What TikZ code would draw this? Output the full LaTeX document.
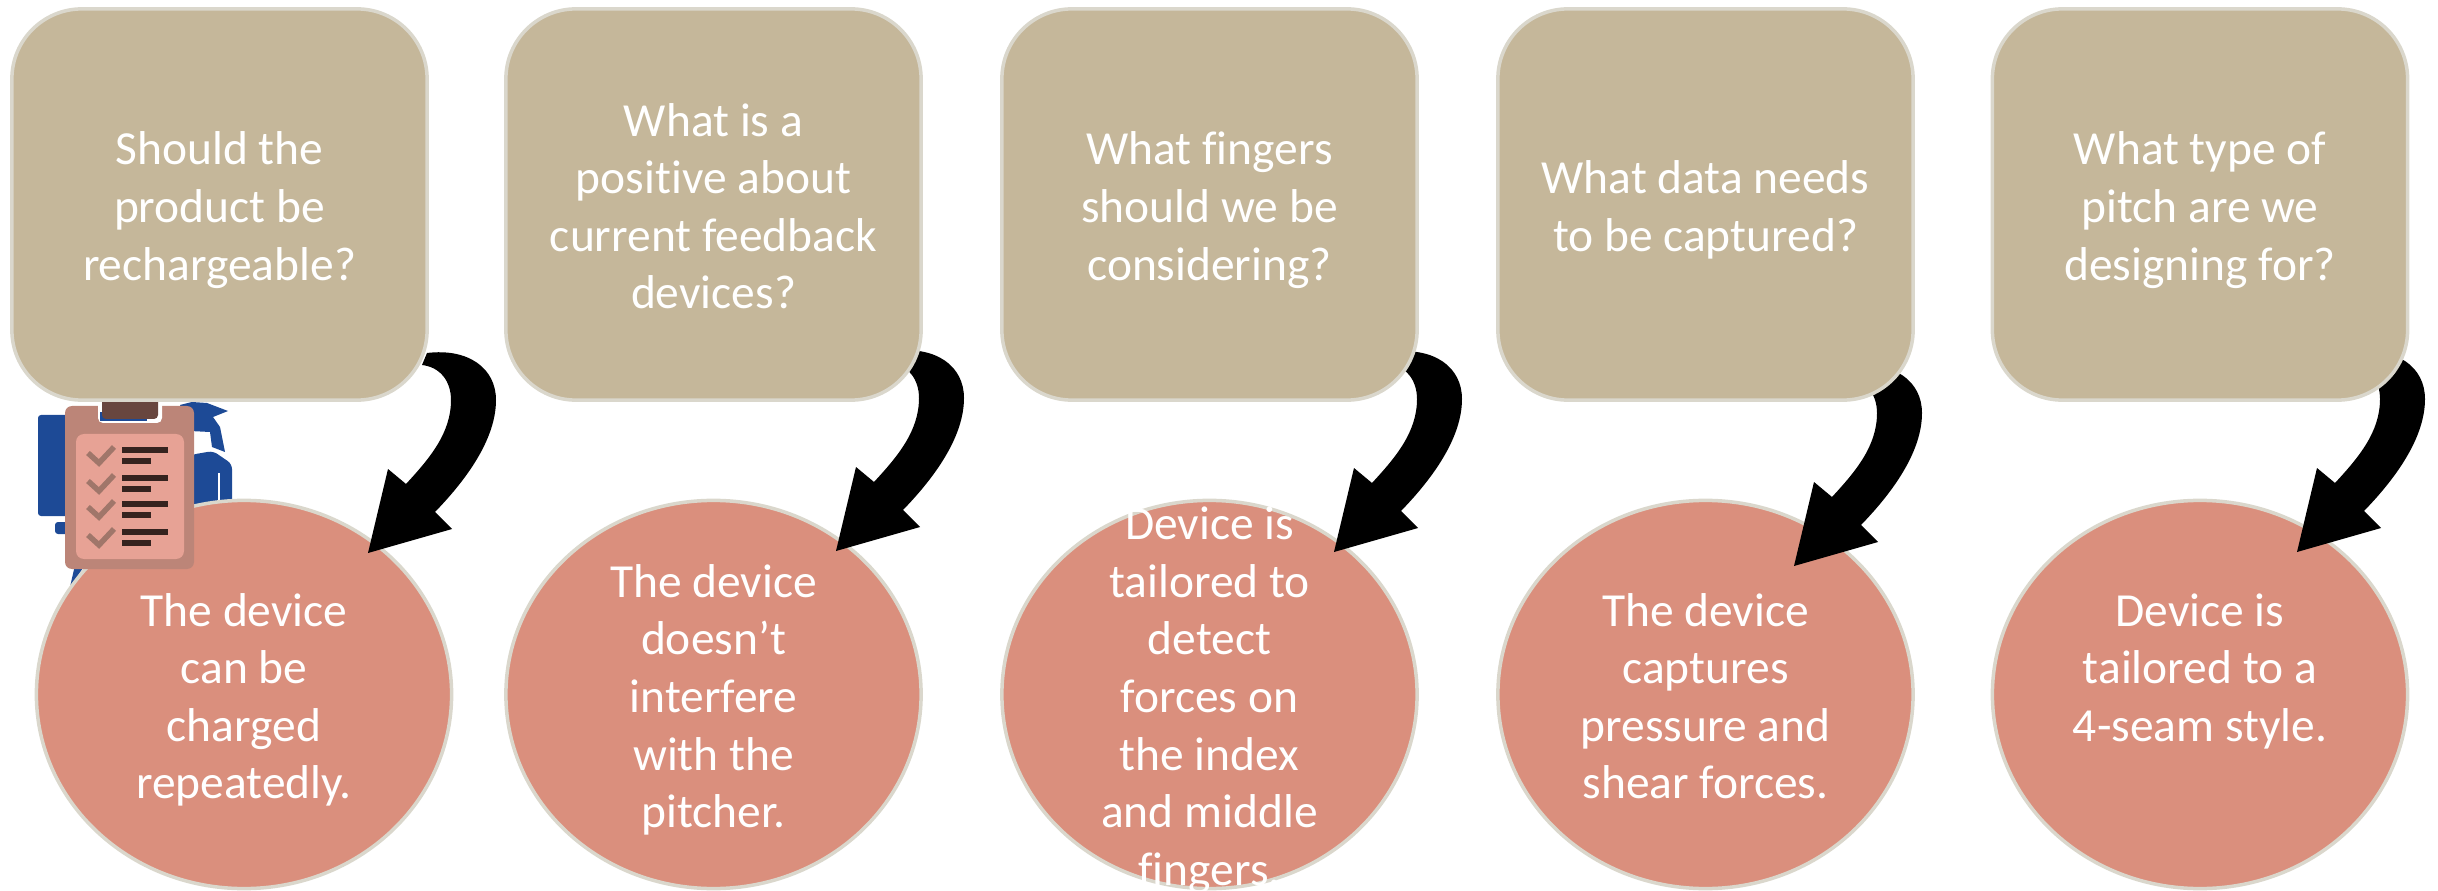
\documentclass[tikz,border=0pt]{standalone}
\usepackage{fontspec}
\setmainfont[Ligatures=NoCommon]{Carlito}
\usetikzlibrary{shapes.geometric}
\definecolor{boxtan}{HTML}{C5B79A}
\definecolor{restsalmon}{HTML}{DA8F7D}
\definecolor{rimgray}{HTML}{DAD7CC}
\definecolor{iconblue}{HTML}{1D4A96}
\definecolor{boardrose}{HTML}{BC8578}
\definecolor{sheetrose}{HTML}{E7A295}
\definecolor{clipbrown}{HTML}{68463F}
\definecolor{tickbrown}{HTML}{A0766A}
\definecolor{barbrown}{HTML}{35231F}
\newcommand{\firstline}{\rule{0pt}{0.48cm}}
\tikzset{
    linebox/.style={text=white, align=center, font=\fontsize{13.5}{16.36}\selectfont,
        execute at end node={\rule[-0.12cm]{0pt}{0.12cm}}},
    questionbox/.style={linebox, draw=rimgray, line width=0.035cm, fill=boxtan, rounded corners=0.7cm,
        minimum width=4.15cm, minimum height=3.91cm, inner sep=0pt},
    resultoval/.style={linebox, draw=rimgray, line width=0.035cm, fill=restsalmon, ellipse,
        minimum width=4.15cm, minimum height=3.88cm, inner sep=-1.2cm},
    hookarrow/.pic={
        \fill[black] (0,0) -- (20,-84) -- (38,-69) .. controls (62,-95) and (83,-120) .. (83,-153)
            .. controls (83,-172) and (72,-186) .. (54,-188) -- (59,-200)
            .. controls (100,-205) and (128,-185) .. (128,-153)
            .. controls (128,-115) and (100,-75) .. (67,-41) -- (84,-24) -- cycle;
    },
    checkline/.pic={
        \draw[tickbrown, line width=0.055cm] (88,6) -- (99,16) -- (114,0);
        \fill[barbrown] (122,0) rectangle (168,6);
        \fill[barbrown] (122,11) rectangle (151,17);
    }
}
\begin{document}
\begin{tikzpicture}[x=0.01cm, y=-0.01cm]
    \useasboundingbox (0,0) rectangle (2438,891);
    % person behind the first result
    \fill[iconblue, rounded corners=0.03cm] (38,415) rectangle (70,516);
    \fill[iconblue, rounded corners=0.03cm] (55,522) rectangle (70,534);
    \fill[iconblue] (70,587) -- (75,565) -- (85,565) -- cycle;
    \fill[iconblue] (180,405) -- (192,402) -- (207,403) -- (228,411) -- (213,417) -- (220,427) -- (225,452)
        -- (212,447) -- (210,432) -- (190,431) -- cycle;
    \fill[iconblue, rounded corners=0.05cm] (190,455) -- (213,451) -- (232,464) -- (232,520) -- (190,530) -- cycle;
    \draw[white, line width=0.02cm] (219,473) -- (219,505);

    \node[resultoval] (resa) at (244,694.5) {\firstline The device\\can be\\charged\\repeatedly.};
    \node[resultoval] (resb) at (713.5,694.5) {\firstline The device\\doesn’t\\interfere\\with the\\pitcher.};
    \node[resultoval] (resc) at (1209.5,694.5) {\firstline Device is\\tailored to\\detect\\forces on\\the index\\and middle\\fingers.};
    \node[resultoval] (resd) at (1705.5,694.5) {\firstline The device\\captures\\pressure and\\shear forces.};
    \node[resultoval] (rese) at (2200,694.5) {\firstline Device is\\tailored to a\\4-seam style.\\\mbox{}};

    % clipboard
    \fill[boardrose, rounded corners=0.07cm] (65,406) rectangle (194,569);
    \fill[white, rounded corners=0.05cm] (98,400) rectangle (162,423);
    \fill[iconblue] (100,412) rectangle (147,421);
    \fill[sheetrose, rounded corners=0.08cm] (76,434) rectangle (184,559);
    \fill[clipbrown, rounded corners=0.04cm] (102,398) rectangle (158,419);
    \pic at (0,447) {checkline};
    \pic at (0,475) {checkline};
    \pic at (0,501) {checkline};
    \pic at (0,529) {checkline};

    \coordinate (tipa) at (368,553);
    \coordinate (tipb) at (836,551);
    \coordinate (tipc) at (1334,552);
    \coordinate (tipd) at (1794,566);
    \coordinate (tipe) at (2297,552);
    \pic at (tipa) {hookarrow};
    \pic at (tipb) {hookarrow};
    \pic at (tipc) {hookarrow};
    \pic at (tipd) {hookarrow};
    \pic at (tipe) {hookarrow};

    \node[questionbox] (quea) at (219.5,204.5) {\firstline Should the\\product be\\rechargeable?};
    \node[questionbox] (queb) at (713.5,204.5) {\firstline What is a\\positive about\\current feedback\\devices?};
    \node[questionbox] (quec) at (1209.5,204.5) {\firstline What fingers\\should we be\\considering?};
    \node[questionbox] (qued) at (1705.5,204.5) {\firstline What data needs\\to be captured?};
    \node[questionbox] (quee) at (2200,204.5) {\firstline What type of\\pitch are we\\designing for?};
\end{tikzpicture}
\end{document}
